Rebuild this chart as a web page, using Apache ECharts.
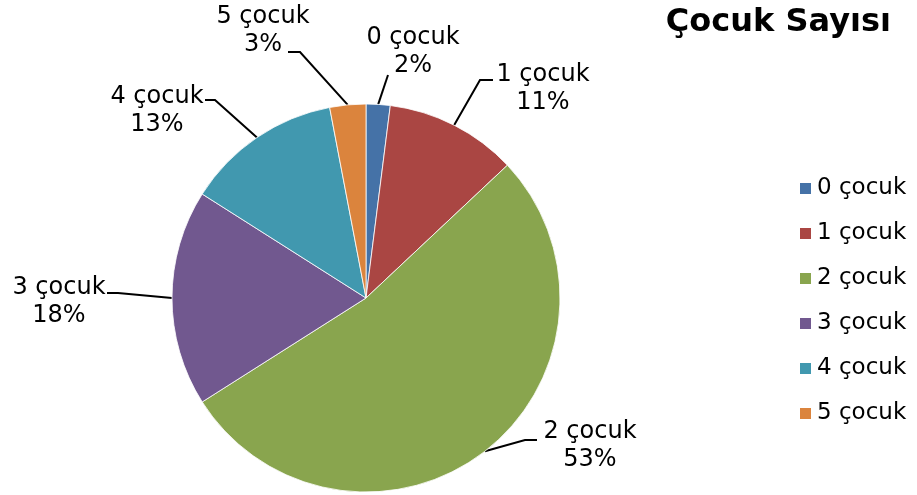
<!DOCTYPE html>
<html>
<head>
<meta charset="utf-8">
<script src="https://cdn.jsdelivr.net/npm/echarts@6/dist/echarts.min.js"></script>
<style>
  html, body { margin: 0; padding: 0; background: #fff; }
  #chart { width: 917px; height: 495px; }
</style>
</head>
<body>
<div id="chart"></div>
<script>
// Number of children per family, share in percent
const categories = ['0 çocuk', '1 çocuk', '2 çocuk', '3 çocuk', '4 çocuk', '5 çocuk'];
const shares = [2, 11, 53, 18, 13, 3];
const sliceColors = ['#4572A7', '#AA4643', '#89A54E', '#71588F', '#4198AF', '#DB843D'];

// Where each two-line slice label sits (centre of the text block)
const labelSpots = [[413, 52], [543, 89], [590, 446], [59, 302], [157, 111], [263, 31]];
// Leader-line end relative to the label centre: [dx, dy, horizontal elbow length]
const leaderEnds = [[-25, 23, 0], [-50, -9, -13], [-53, -6, -12], [48, -9, 11], [48, -11, 10], [25, 21, 12]];

const FONT = 'DejaVu Sans';

const chart = echarts.init(document.getElementById('chart'), null, { renderer: 'canvas' });

chart.setOption({
  animation: false,
  backgroundColor: '#ffffff',
  title: {
    text: 'Çocuk Sayısı',
    right: 21,
    top: 2,
    textStyle: { fontFamily: FONT, fontSize: 32, fontWeight: 'bold', color: '#000' }
  },
  legend: {
    orient: 'vertical',
    left: 798,
    top: 177,
    padding: 0,
    icon: 'rect',
    itemWidth: 13,
    itemHeight: 13,
    itemGap: 22,
    data: categories,
    textStyle: { fontFamily: FONT, fontSize: 23, color: '#000' }
  },
  series: [{
    type: 'pie',
    center: [366, 298],
    radius: 194,
    startAngle: 90,
    clockwise: true,
    avoidLabelOverlap: false,
    itemStyle: { borderColor: '#ffffff', borderWidth: 0.8 },
    label: {
      show: true,
      position: 'outside',
      fontFamily: FONT,
      fontSize: 24,
      lineHeight: 28,
      color: '#000',
      formatter: p => p.name + '\n' + p.value + '%'
    },
    labelLine: {
      show: true,
      length: 20,
      length2: 11,
      lineStyle: { color: '#000', width: 2 }
    },
    labelLayout: function (params) {
      const i = params.dataIndex;
      const spot = labelSpots[i];
      const lead = leaderEnds[i];
      // start of the leader: the point on the slice rim chosen by the pie layout
      const rim = params.labelLinePoints[0];
      const end = [spot[0] + lead[0], spot[1] + lead[1]];
      const elbow = [end[0] + lead[2], end[1]];
      return {
        x: spot[0],
        y: spot[1],
        align: 'center',
        verticalAlign: 'middle',
        labelLinePoints: [rim, elbow, end]
      };
    },
    emphasis: { disabled: true },
    data: categories.map((name, i) => ({
      name: name,
      value: shares[i],
      itemStyle: { color: sliceColors[i] }
    }))
  }]
});
</script>
</body>
</html>
